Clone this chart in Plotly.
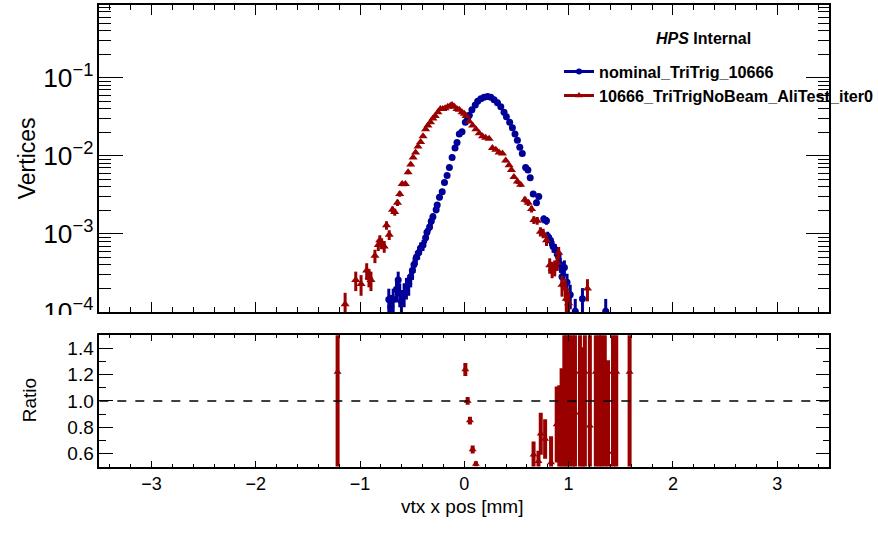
import numpy as np
import plotly.graph_objects as go

# ---------------- data ----------------
nom_x = [-0.724, -0.705, -0.682, -0.650, -0.634, -0.619, -0.603, -0.577, -0.555, -0.533,
         -0.514, -0.498, -0.482, -0.460, -0.438, -0.419, -0.396, -0.371, -0.358, -0.333,
         -0.317, -0.301, -0.270, -0.260, -0.238, -0.212, -0.190, -0.165, -0.143, -0.117,
         -0.089, -0.070, -0.048, -0.022, 0.010, 0.032, 0.048, 0.073, 0.105, 0.128,
         0.159, 0.190, 0.223, 0.254, 0.286, 0.318, 0.350, 0.381, 0.404, 0.435,
         0.461, 0.486, 0.509, 0.532, 0.556, 0.588, 0.610, 0.632, 0.661, 0.692,
         0.714, 0.762, 0.788, 0.800, 0.826, 0.851, 0.873, 0.899, 0.921, 0.937,
         0.960, 0.985, 1.016, 1.064, 1.133, 1.356]
nom_y = [1.45e-4, 1.17e-4, 1.45e-4, 1.95e-4, 2.57e-4, 1.74e-4, 1.38e-4, 1.74e-4, 2.09e-4, 2.29e-4,
         2.82e-4, 3.39e-4, 4.07e-4, 5.01e-4, 5.75e-4, 6.61e-4, 7.24e-4, 8.91e-4, 1.05e-3, 1.23e-3,
         1.45e-3, 1.66e-3, 2.04e-3, 2.34e-3, 2.95e-3, 3.47e-3, 4.57e-3, 5.62e-3, 7.08e-3, 9.55e-3,
         1.26e-2, 1.48e-2, 1.91e-2, 2.04e-2, 2.69e-2, 3.02e-2, 3.31e-2, 3.89e-2, 4.47e-2, 5.01e-2,
         5.37e-2, 5.62e-2, 5.75e-2, 5.62e-2, 5.25e-2, 4.79e-2, 4.27e-2, 3.63e-2, 3.16e-2, 2.69e-2,
         2.29e-2, 1.91e-2, 1.58e-2, 1.29e-2, 1.07e-2, 7.08e-3, 6.61e-3, 5.25e-3, 3.24e-3, 2.51e-3,
         3.02e-3, 1.55e-3, 1.48e-3, 9.33e-4, 8.32e-4, 6.92e-4, 6.31e-4, 5.25e-4, 4.07e-4, 2.82e-4,
         3.72e-4, 2.40e-4, 1.66e-4, 1.02e-4, 1.48e-4, 1.02e-4]

ali_x = [-1.143, -1.041, -0.990, -0.936, -0.914, -0.895, -0.857, -0.825, -0.810, -0.793,
         -0.768, -0.746, -0.720, -0.689, -0.667, -0.641, -0.619, -0.596, -0.565, -0.539,
         -0.514, -0.491, -0.467, -0.444, -0.419, -0.396, -0.371, -0.349, -0.324, -0.301,
         -0.279, -0.253, -0.229, -0.206, -0.184, -0.158, -0.133, -0.117, -0.095, -0.070,
         -0.048, -0.022, 0.000, 0.016, 0.048, 0.080, 0.111, 0.143, 0.175, 0.205,
         0.238, 0.270, 0.302, 0.333, 0.366, 0.397, 0.429, 0.452, 0.476, 0.509,
         0.540, 0.581, 0.613, 0.645, 0.667, 0.699, 0.730, 0.756, 0.788, 0.819,
         0.842, 0.867, 0.890, 0.905, 0.937, 0.969, 0.978, 1.000, 1.181]
ali_y = [1.26e-4, 2.57e-4, 2.29e-4, 3.39e-4, 2.82e-4, 2.57e-4, 5.25e-4, 7.24e-4, 8.32e-4, 7.59e-4,
         6.92e-4, 1.29e-3, 9.77e-4, 2.04e-3, 1.91e-3, 2.51e-3, 3.24e-3, 4.37e-3, 4.37e-3, 6.17e-3,
         7.76e-3, 9.55e-3, 1.10e-2, 1.32e-2, 1.51e-2, 1.78e-2, 2.19e-2, 2.45e-2, 2.69e-2, 3.02e-2,
         3.24e-2, 3.63e-2, 3.98e-2, 3.98e-2, 4.07e-2, 4.27e-2, 4.37e-2, 4.47e-2, 4.27e-2, 3.98e-2,
         3.89e-2, 3.63e-2, 3.47e-2, 3.24e-2, 2.75e-2, 2.45e-2, 2.19e-2, 1.95e-2, 1.78e-2, 1.70e-2,
         1.66e-2, 1.26e-2, 1.20e-2, 1.10e-2, 1.07e-2, 8.71e-3, 7.59e-3, 6.61e-3, 5.37e-3, 4.68e-3,
         4.27e-3, 2.75e-3, 2.51e-3, 2.09e-3, 1.51e-3, 1.48e-3, 1.07e-3, 1.02e-3, 8.32e-4, 3.98e-4,
         3.55e-4, 3.72e-4, 4.27e-4, 5.75e-4, 2.24e-4, 2.00e-4, 1.48e-4, 1.29e-4, 2.00e-4]

ratio_x = [-1.215, 0.010, 0.032, 0.054, 0.080, 0.111, 0.664, 0.711, 0.733, 0.775,
           0.832, 0.886, 0.911, 0.933, 0.959, 0.981, 1.007, 1.038, 1.061, 1.109,
           1.133, 1.156, 1.204, 1.261, 1.292, 1.314, 1.347, 1.378, 1.426, 1.457, 1.585]
ratio_y = [1.22, 1.24, 1.00, 0.85, 0.63, 0.52, 0.59, 0.54, 0.75, 0.71,
           0.53, 0.82, 0.78, 0.75, 1.04, 1.02, 1.02, 0.61, 0.91, 1.22,
           0.61, 1.22, 0.81, 1.22, 1.22, 1.22, 0.91, 0.61, 1.22, 1.22, 1.22]
ratio_err = [1.22, 0.05, 0.03, 0.03, 0.03, 0.02, 0.10, 0.08, 0.16, 0.15,
             0.20, 0.29, 0.34, 0.50, 0.60, 0.60, 0.60, 0.90, 0.80, 1.22,
             0.80, 1.22, 0.80, 1.22, 1.22, 1.22, 0.90, 0.70, 1.22, 1.22, 1.22]

name_nom = "nominal_TriTrig_10666"
name_ali = "10666_TriTrigNoBeam_AliTest_iter0"

# statistical (Poisson) errors for normalised histograms
N_EFF = 50000.0
nom_err = list(np.sqrt(np.array(nom_y) / N_EFF))
ali_err = list(np.sqrt(np.array(ali_y) / N_EFF))

BLUE = "#000099"
RED = "#990000"
FONT = "Liberation Sans, Arial, Helvetica, sans-serif"
W, H = 879, 535

def px_x(p):
    return p / W

def px_y(p):
    return 1 - p / H

fig = go.Figure()

fig.add_trace(go.Scatter(
    x=nom_x, y=nom_y, mode="markers", xaxis="x", yaxis="y", showlegend=False,
    marker=dict(symbol="circle", size=7, color=BLUE),
    error_y=dict(type="data", array=nom_err, color=BLUE, thickness=3, width=0)))
fig.add_trace(go.Scatter(
    x=ali_x, y=ali_y, mode="markers", xaxis="x", yaxis="y", showlegend=False,
    marker=dict(symbol="triangle-up", size=8, color=RED),
    error_y=dict(type="data", array=ali_err, color=RED, thickness=3, width=0)))

# legend samples (line + marker, like ROOT "lep")
fig.add_trace(go.Scatter(x=[None], y=[None], mode="lines+markers", name=name_nom,
                         xaxis="x", yaxis="y",
                         line=dict(color=BLUE, width=3),
                         marker=dict(symbol="circle", size=6, color=BLUE)))
fig.add_trace(go.Scatter(x=[None], y=[None], mode="lines+markers", name=name_ali,
                         xaxis="x", yaxis="y",
                         line=dict(color=RED, width=3),
                         marker=dict(symbol="triangle-up", size=7, color=RED)))

fig.add_trace(go.Scatter(
    x=ratio_x, y=ratio_y, mode="markers", xaxis="x2", yaxis="y2", showlegend=False,
    marker=dict(symbol="triangle-up", size=7, color=RED),
    error_y=dict(type="data", array=ratio_err, color=RED, thickness=4, width=0)))

x_dom = [px_x(100), px_x(835)]
axis_common = dict(showline=True, linecolor="black", linewidth=1.5, mirror="ticks",
                   showgrid=False, zeroline=False, ticks="inside", tickcolor="black")

fig.update_layout(
    width=W, height=H, autosize=False,
    margin=dict(l=0, r=0, t=0, b=0),
    paper_bgcolor="white", plot_bgcolor="white",
    font=dict(family=FONT, color="black"),
    xaxis=dict(domain=x_dom, anchor="y", range=[-3.5, 3.5], showticklabels=False,
               tickmode="linear", tick0=0, dtick=1, ticklen=10,
               minor=dict(ticks="inside", ticklen=5, dtick=0.2, tick0=0, tickcolor="black"),
               **axis_common),
    yaxis=dict(domain=[px_y(321), px_y(5)], anchor="x", type="log", range=[-4, -0.066],
               dtick=1, exponentformat="power", showexponent="all", ticklen=24,
               tickfont=dict(size=21),
               minor=dict(ticks="inside", ticklen=12, dtick="D1", tickcolor="black"),
               **axis_common),
    xaxis2=dict(domain=x_dom, anchor="y2", range=[-3.5, 3.5],
                tickmode="linear", tick0=0, dtick=1, ticklen=6,
                tickfont=dict(size=18),
                minor=dict(ticks="inside", ticklen=3, dtick=0.2, tick0=0, tickcolor="black"),
                **axis_common),
    yaxis2=dict(domain=[px_y(480), px_y(345)], anchor="x2", range=[0.5, 1.5],
                tickmode="linear", tick0=0.6, dtick=0.2, tickformat=".1f", ticklen=14,
                tickfont=dict(size=19),
                minor=dict(ticks="inside", ticklen=7, dtick=0.1, tick0=0.5, tickcolor="black"),
                **axis_common),
    legend=dict(x=px_x(563), y=px_y(56), xanchor="left", yanchor="top",
                bgcolor="rgba(0,0,0,0)", borderwidth=0,
                font=dict(size=16.2, family=FONT, weight="bold"),
                itemwidth=30, tracegroupgap=0),
    shapes=[
        dict(type="line", xref="x2", yref="y2", x0=-3.5, x1=3.5, y0=1.0, y1=1.0,
             line=dict(color="black", width=1.5, dash="dash"), layer="above"),
        dict(type="rect", xref="paper", yref="paper", x0=0, x1=px_x(98),
             y0=px_y(343), y1=px_y(324), fillcolor="white", line=dict(width=0),
             layer="above"),
    ],
    annotations=[
        dict(text="<b><i>HPS</i> Internal</b>", xref="paper", yref="paper",
             x=px_x(708), y=px_y(40), xanchor="center", yanchor="middle",
             showarrow=False, font=dict(size=16)),
        dict(text="Vertices", xref="paper", yref="paper", x=px_x(28), y=px_y(163),
             xanchor="center", yanchor="middle", textangle=-90, showarrow=False,
             font=dict(size=23)),
        dict(text="Ratio", xref="paper", yref="paper", x=px_x(30), y=px_y(412),
             xanchor="center", yanchor="middle", textangle=-90, showarrow=False,
             font=dict(size=19)),
        dict(text="vtx x pos [mm]", xref="paper", yref="paper", x=px_x(465), y=px_y(521),
             xanchor="center", yanchor="middle", showarrow=False,
             font=dict(size=19)),
    ],
)

fig.write_html("out.html")
